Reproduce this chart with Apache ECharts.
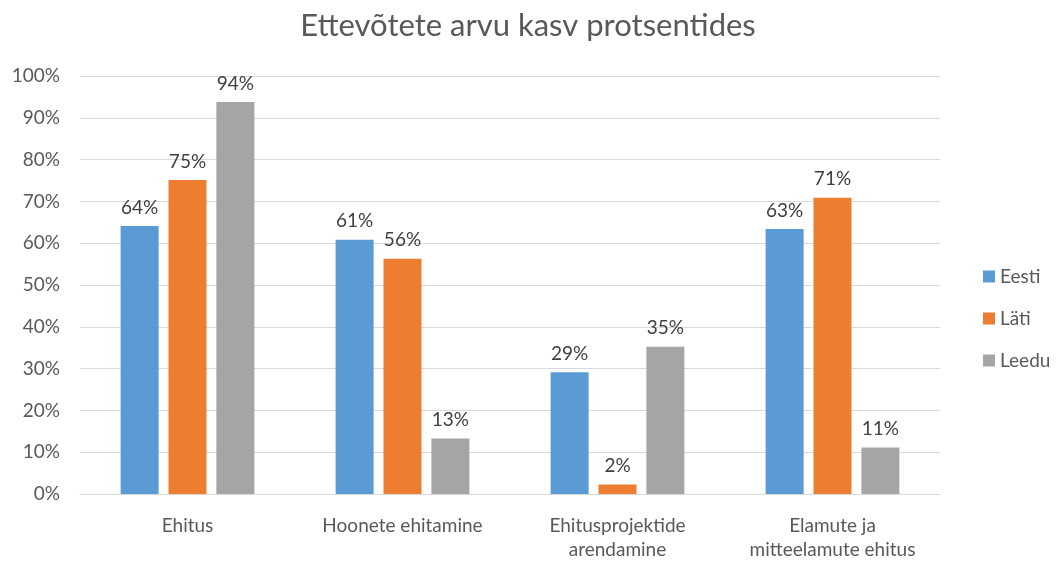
<!DOCTYPE html>
<html>
<head>
<meta charset="utf-8">
<script src="https://cdn.jsdelivr.net/npm/echarts@6/dist/echarts.min.js"></script>
<style>html,body{margin:0;padding:0;background:#fff}#c{width:1056px;height:562px}</style>
</head>
<body>
<div id="c"></div>
<script>
const categories = ['Ehitus', 'Hoonete ehitamine', 'Ehitusprojektide\narendamine', 'Elamute ja\nmitteelamute ehitus'];
const seriesNames = ['Eesti', 'Läti', 'Leedu'];
const eesti = [64.1, 60.8, 29.1, 63.4];
const lati = [75.1, 56.3, 2.3, 70.9];
const leedu = [93.8, 13.3, 35.2, 11.1];
const colors = ['#5B9BD5', '#ED7D31', '#A5A5A5'];
const font = 'Lato, "Open Sans", sans-serif';

const chart = echarts.init(document.getElementById('c'));
const mk = (name, data, color) => ({
  name, type: 'bar', data, barWidth: 38, barGap: '26%',
  itemStyle: { color },
  label: { show: true, position: 'top', distance: 9, color: '#404040', fontSize: 19, fontFamily: font,
    formatter: p => Math.round(p.value) + '%' }
});
chart.setOption({
  animation: false,
  title: { text: 'Ettevõtete arvu kasv protsentides', left: 'center', top: 5,
    textStyle: { fontSize: 31, fontWeight: 'normal', color: '#595959', fontFamily: font } },
  legend: { orient: 'vertical', left: 978, top: 262, itemWidth: 12, itemHeight: 12, itemGap: 23,
    icon: 'rect', textStyle: { fontSize: 19, color: '#595959', fontFamily: font } },
  grid: { left: 80, right: 116, top: 76, bottom: 65 },
  xAxis: { type: 'category', data: categories,
    axisLine: { lineStyle: { color: '#d9d9d9' } }, axisTick: { show: false },
    axisLabel: { fontSize: 19, color: '#595959', fontFamily: font, margin: 20, lineHeight: 24, interval: 0 } },
  yAxis: { type: 'value', min: 0, max: 100, interval: 10,
    axisLabel: { formatter: '{value}%', fontSize: 19, color: '#595959', fontFamily: font, margin: 20 },
    splitLine: { lineStyle: { color: '#d9d9d9' } }, axisLine: { show: false }, axisTick: { show: false } },
  series: [mk(seriesNames[0], eesti, colors[0]), mk(seriesNames[1], lati, colors[1]), mk(seriesNames[2], leedu, colors[2])]
});
</script>
</body>
</html>
